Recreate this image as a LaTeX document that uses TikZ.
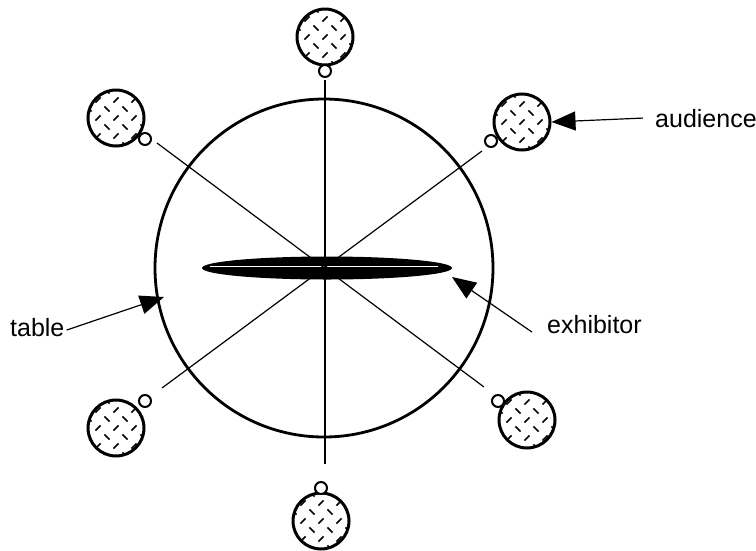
\documentclass[tikz,border=0pt]{standalone}
\usepackage{fontspec}
\setmainfont{Liberation Sans}
\usetikzlibrary{arrows.meta,shapes.geometric}
\begin{document}
\begin{tikzpicture}[x=1pt,y=-1pt,
  spoke/.style={line width=1.2pt},
  hatchA/.style={line width=1.5pt},
  head/.style={circle,draw,line width=3pt,fill=white,minimum size=56pt,inner sep=0pt,
    path picture={
      \begin{scope}[shift={(path picture bounding box.center)}]
        \foreach \i in {-4,...,4} {
          \foreach \j in {-4,...,4} {
            \ifodd\numexpr\i+\j+8\relax\else
              \ifodd\numexpr\i+8\relax
                \draw[hatchA] (\i*9-2.6,\j*9-2.6) -- ++(5.2,5.2);
              \else
                \draw[hatchA] (\i*9-2.6,\j*9+2.6) -- ++(5.2,-5.2);
              \fi
            \fi
          }
        }
      \end{scope}}},
  ear/.style={circle,draw,line width=2pt,fill=white,minimum size=12pt,inner sep=0pt},
  lbl/.style={font=\fontsize{25}{29}\selectfont,inner sep=0pt},
  arr/.style={line width=1.2pt,-{Triangle[length=24pt,width=19pt]}}]
\useasboundingbox (0,0) rectangle (756,550);

% table and spokes
\coordinate (c) at (324,268);
\coordinate (sN) at (325,80);
\coordinate (sS) at (325,464);
\coordinate (sNW) at (157,143);
\coordinate (sSE) at (484,387);
\coordinate (sNE) at (482,151);
\coordinate (sSW) at (162,388);
\node[circle,draw,line width=2.8pt,minimum size=338pt,inner sep=0pt] (table) at (c) {};
\node[ellipse,fill=black,minimum width=250pt,minimum height=23pt,inner sep=0pt] (exh) at (327,268) {};
\draw[white,line width=0.9pt] (210,266) -- (438,266);
\draw[spoke] (sN) -- (sS);
\draw[spoke] (sNW) -- (sSE);
\draw[spoke] (sNE) -- (sSW);

% audience
\node[head] (hN) at (325,37) {};
\node[ear] (eN) at (325,71) {};
\node[head] (hNW) at (116,118) {};
\node[ear] (eNW) at (145,139) {};
\node[head] (hNE) at (522,122) {};
\node[ear] (eNE) at (491,141) {};
\node[head] (hSW) at (116,428) {};
\node[ear] (eSW) at (145,401) {};
\node[head] (hSE) at (527,420) {};
\node[ear] (eSE) at (498,401) {};
\node[head] (hS) at (321,521) {};
\node[ear] (eS) at (321,488) {};

% labels and arrows
\node[lbl,anchor=base west] (laud) at (655,127) {audience};
\node[lbl,anchor=base west] (ltab) at (10,336) {table};
\node[lbl,anchor=base west] (lexh) at (547,333) {exhibitor};
\coordinate (tabtip) at (164,297);
\coordinate (exhtip) at (452,277);
\draw[arr] ([xshift=-12pt]laud.west) -- (hNE.east);
\draw[arr] ([xshift=2pt,yshift=-3pt]ltab.east) -- (tabtip);
\draw[arr] ([xshift=-15pt,yshift=-8pt]lexh.west) -- (exhtip);
\end{tikzpicture}
\end{document}
